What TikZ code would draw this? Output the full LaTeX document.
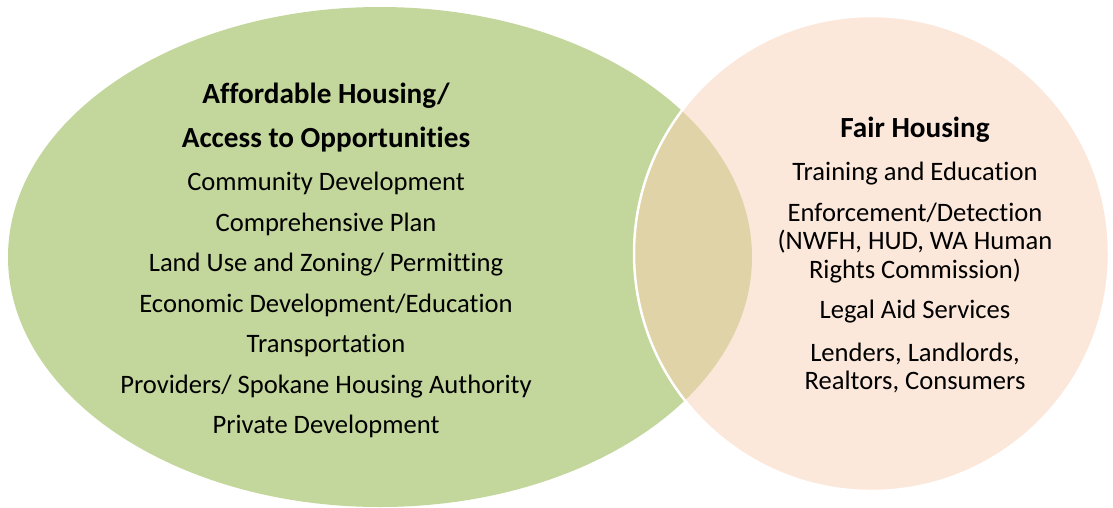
\documentclass[tikz,border=0pt]{standalone}
\usepackage{fontspec}
\setmainfont{Carlito}[Ligatures=NoCommon]
\definecolor{affordgreen}{HTML}{C3D69B}
\definecolor{fairpeach}{HTML}{FCE8DA}
\definecolor{overlapbeige}{HTML}{DFD3A7}
\begin{document}
\begin{tikzpicture}[x=1pt,y=-1pt,
  item/.style={anchor=base, inner sep=0pt, text=black,
    font=\fontsize{26.6}{29}\selectfont},
  head/.style={anchor=base, inner sep=0pt, text=black,
    font=\fontsize{29.2}{31}\selectfont\bfseries}]
\useasboundingbox (0,0) rectangle (1113,507);

% the two sets
\fill[affordgreen] (380,257) ellipse [x radius=372pt, y radius=250pt];
\fill[fairpeach] (871.5,253.5) circle [radius=237.5pt];
\begin{scope}
  \clip (871.5,253.5) circle [radius=237.5pt];
  \fill[overlapbeige] (380,257) ellipse [x radius=372pt, y radius=250pt];
\end{scope}
\draw[white, line width=2.5pt] (871.5,253.5) circle [radius=237.5pt];

% affordable housing set
\node[head] (ahA) at (326,103) {Affordable Housing/};
\node[head] (ahB) at (326,147) {Access to Opportunities};
\node[item] (ah1) at (326,190) {Community Development};
\node[item] (ah2) at (326,231) {Comprehensive Plan};
\node[item] (ah3) at (326,271) {Land Use and Zoning/ Permitting};
\node[item] (ah4) at (326,312) {Economic Development/Education};
\node[item] (ah5) at (326,352) {Transportation};
\node[item] (ah6) at (326,393) {Providers/ Spokane Housing Authority};
\node[item] (ah7) at (326,433) {Private Development};

% fair housing set
\node[head] (fh) at (915,137) {Fair Housing};
\node[item] (fh1) at (915,180) {Training and Education};
\node[item] (fh2a) at (915,221) {Enforcement/Detection};
\node[item] (fh2b) at (915,249.5) {(NWFH, HUD, WA Human};
\node[item] (fh2c) at (915,278) {Rights Commission)};
\node[item] (fh3) at (915,318) {Legal Aid Services};
\node[item] (fh4a) at (915,361) {Lenders, Landlords,};
\node[item] (fh4b) at (915,389) {Realtors, Consumers};
\end{tikzpicture}
\end{document}
